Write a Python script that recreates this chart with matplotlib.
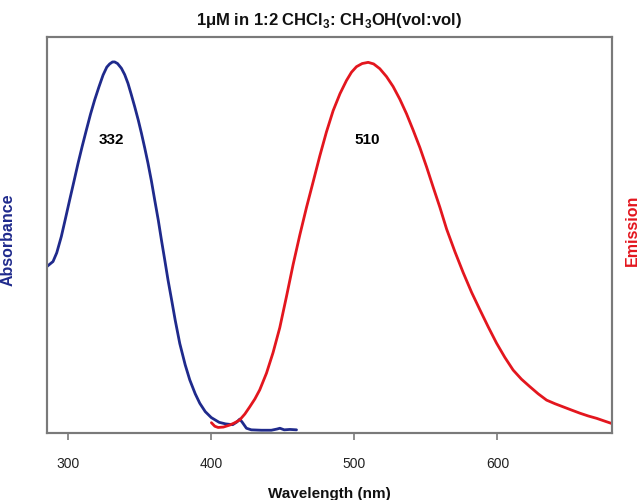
import matplotlib
matplotlib.use("Agg")
import matplotlib.pyplot as plt

# Absorbance (normalized)
abs_wl = [285.0, 289.4, 292.0, 295.2, 298.0, 301.0, 304.0, 306.9, 309.8, 312.7, 315.6,
          318.5, 321.5, 324.4, 327.0, 329.0, 331.0, 332.5, 334.5, 337.2, 339.5, 341.8,
          344.0, 346.5, 349.0, 351.2, 353.5, 355.8, 358.2, 360.5, 363.0, 365.2, 367.5,
          369.8, 372.5, 374.8, 378.0, 381.8, 385.0, 388.8, 392.0, 395.8, 400.0, 405.5,
          410.0, 415.0, 418.0, 419.9, 421.5, 424.6, 428.0, 435.0, 442.0, 446.0, 448.0,
          451.0, 455.0, 459.6]
abs_val = [0.420, 0.433, 0.455, 0.496, 0.540, 0.588, 0.635, 0.681, 0.724, 0.765, 0.805,
           0.841, 0.874, 0.904, 0.924, 0.932, 0.937, 0.937, 0.933, 0.921, 0.905, 0.883,
           0.856, 0.824, 0.790, 0.757, 0.720, 0.681, 0.636, 0.588, 0.537, 0.487, 0.437,
           0.386, 0.332, 0.285, 0.226, 0.172, 0.134, 0.099, 0.075, 0.054, 0.039, 0.027,
           0.023, 0.021, 0.028, 0.035, 0.028, 0.012, 0.008, 0.007, 0.007, 0.010, 0.012,
           0.008, 0.009, 0.008]

# Emission (normalized)
em_wl = [400.1, 402.5, 404.8, 408.5, 412.9, 416.5, 419.9, 423.5, 426.9, 430.5, 433.9,
         438.6, 443.2, 447.9, 452.6, 457.2, 461.9, 466.6, 471.2, 475.9, 480.5, 485.2,
         490.0, 494.5, 498.0, 501.5, 505.5, 509.7, 513.5, 517.8, 522.5, 527.1, 531.8,
         536.5, 541.1, 545.8, 550.5, 555.1, 559.8, 564.5, 570.3, 576.1, 582.0, 587.8,
         593.6, 599.4, 605.2, 611.0, 616.8, 622.7, 628.5, 634.4, 640.2, 646.0, 651.8,
         657.7, 663.5, 669.4, 675.0, 679.9]
em_val = [0.026, 0.017, 0.014, 0.015, 0.020, 0.026, 0.033, 0.048, 0.066, 0.086, 0.109,
          0.151, 0.203, 0.266, 0.345, 0.425, 0.500, 0.570, 0.634, 0.700, 0.760, 0.814,
          0.857, 0.890, 0.911, 0.925, 0.933, 0.936, 0.932, 0.920, 0.900, 0.875, 0.843,
          0.806, 0.765, 0.721, 0.672, 0.621, 0.570, 0.515, 0.458, 0.405, 0.355, 0.311,
          0.268, 0.227, 0.191, 0.159, 0.136, 0.117, 0.099, 0.083, 0.074, 0.066, 0.058,
          0.050, 0.043, 0.037, 0.030, 0.024]

x_ticks = [300, 400, 500, 600]
peak_labels = ["332", "510"]
peak_pos = [(330.2, 0.74), (509.0, 0.74)]

title = r"1μM in 1:2 CHCl$_\mathbf{3}$: CH$_\mathbf{3}$OH(vol:vol)"

BLUE = "#1f2a8c"
RED = "#e3161e"
SPINE = "#7a7a7a"

plt.rcParams['font.family'] = ['Liberation Sans', 'DejaVu Sans']
plt.rcParams['mathtext.fontset'] = 'custom'
plt.rcParams['mathtext.bf'] = 'Liberation Sans:bold'
plt.rcParams['mathtext.rm'] = 'Liberation Sans'

fig = plt.figure(figsize=(6.4, 5.0), dpi=100)
ax = fig.add_axes([0.073, 0.134, 0.883, 0.792])
ax2 = ax.twinx()

ax.plot(abs_wl, abs_val, color=BLUE, lw=2.0, solid_joinstyle='round', solid_capstyle='round')
ax2.plot(em_wl, em_val, color=RED, lw=2.0, solid_joinstyle='round', solid_capstyle='round')

ax.set_xlim(285, 680)
ax.set_ylim(0, 1)
ax2.set_ylim(0, 1)

ax.set_xticks(x_ticks)
ax.tick_params(axis='x', direction='out', length=5, width=1.2, color=SPINE,
               labelsize=10, pad=12, labelcolor="#222222")
ax.set_yticks([])
ax2.set_yticks([])
for a in (ax, ax2):
    for s in a.spines.values():
        s.set_color(SPINE)
        s.set_linewidth(1.5)

for lab, (x, y) in zip(peak_labels, peak_pos):
    ax.text(x, y, lab, ha='center', va='center', fontsize=11, fontweight='bold', color='black')

ax.set_xlabel("Wavelength (nm)", fontsize=11, fontweight='bold', labelpad=12, color="#111111")
fig.text(0.013, 0.52, "Absorbance", rotation=90, ha='center', va='center',
         fontsize=11.5, fontweight='bold', color=BLUE)
fig.text(0.988, 0.54, "Emission", rotation=90, ha='center', va='center',
         fontsize=11.5, fontweight='bold', color=RED)
ax.set_title(title, fontsize=12, fontweight='bold', pad=9, color="#111111")

fig.savefig("out.png", dpi=100)
